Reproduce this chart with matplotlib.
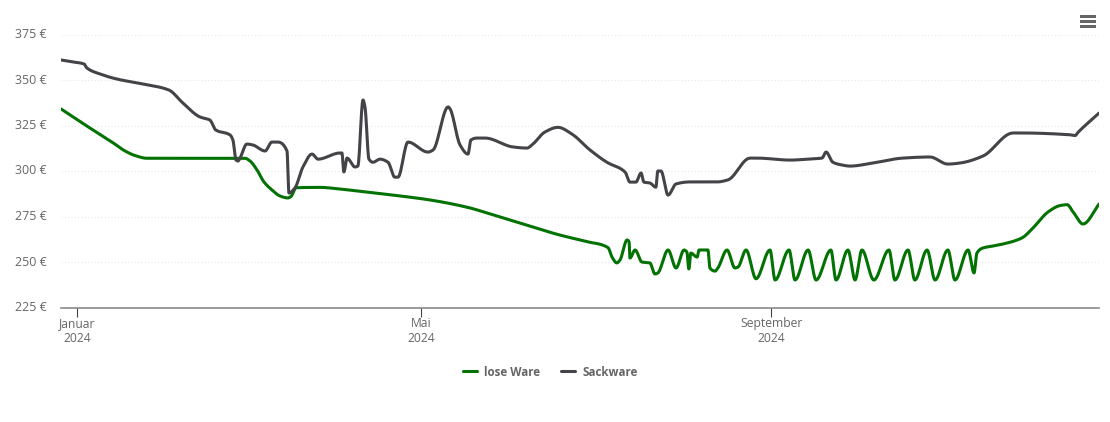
import datetime as dt
import numpy as np
import matplotlib
matplotlib.use('Agg')
import matplotlib.pyplot as plt
import matplotlib.dates as mdates
from matplotlib.patches import Rectangle

plt.rcParams['font.family'] = ['Open Sans', 'DejaVu Sans']

# Tage seit dem 1.1.2024, Preise in Euro
lose_days = [-5.6, 2.8, 12.3, 16.9, 20.4, 24.6, 29.2, 59.0, 60.8, 63.3, 65.7, 68.5, 71.3, 74.1, 75.2, 77.0,
             85.4, 92.4, 101.2, 113.5, 124.0, 138.1, 145.1, 152.1, 160.9, 169.7, 178.5, 186.6, 188.0, 189.7, 190.8,
             193.3, 194.0, 194.3, 196.1, 198.5, 201.3, 203.1, 204.1, 207.7, 210.5, 213.3, 214.3, 215.0, 215.7,
             217.9, 218.6, 221.7, 222.4, 224.2, 225.2, 228.4, 231.2, 232.3, 235.1, 238.6, 243.5, 245.3, 250.2,
             252.3, 256.9, 259.7, 264.9, 266.7, 270.9, 273.4, 275.8, 280.0, 285.3, 287.4, 292.0, 294.4, 298.7,
             301.5, 306.0, 308.5, 313.1, 315.2, 316.2, 318.3, 321.9, 325.4, 332.0, 335.9, 341.2, 345.4, 347.9,
             350.0, 353.5, 359.1]
lose_price = [334.1, 325.4, 315.9, 311.0, 308.5, 307.0, 307.0, 307.0, 305.5, 300.5, 294.0, 289.6, 286.3, 285.2,
              286.0, 290.8, 291.0, 290.1, 288.5, 286.3, 284.1, 279.7, 276.4, 273.1, 268.8, 264.8, 261.4, 257.9,
              252.7, 249.5, 251.1, 262.1, 261.0, 252.2, 256.6, 250.0, 249.5, 243.4, 244.0, 256.6, 246.7, 256.6,
              255.5, 246.2, 254.9, 252.7, 256.6, 256.6, 246.7, 245.0, 246.7, 256.6, 246.7, 247.3, 256.6, 240.8,
              256.6, 240.1, 256.6, 240.1, 256.6, 240.1, 256.6, 240.1, 256.6, 240.1, 256.6, 240.1, 256.6, 240.1,
              256.6, 240.1, 256.6, 240.1, 256.6, 240.1, 256.6, 244.0, 254.9, 257.7, 258.8, 259.9, 263.2, 268.7,
              277.5, 281.0, 281.5, 277.5, 270.9, 281.8]

sack_days = [-5.6, -1.4, 2.5, 3.5, 8.1, 14.1, 23.2, 32.3, 37.2, 43.2, 46.7, 48.8, 53.8, 54.8, 55.9, 56.6, 57.3,
             59.7, 61.8, 66.1, 68.5, 70.6, 73.8, 74.5, 76.6, 79.4, 82.6, 84.7, 92.4, 93.1, 93.8, 94.9, 97.7, 98.7,
             100.5, 101.2, 102.6, 104.0, 106.5, 109.3, 111.7, 112.8, 116.3, 123.3, 125.1, 130.4, 131.1, 134.6,
             137.4, 138.4, 140.5, 143.4, 153.2, 158.1, 160.2, 164.4, 169.0, 173.9, 180.3, 186.2, 192.6, 194.3,
             196.4, 198.2, 199.2, 201.3, 203.4, 204.1, 205.2, 207.7, 210.5, 215.4, 224.9, 228.7, 236.5, 238.9,
             250.5, 257.6, 261.8, 263.2, 265.6, 268.8, 271.6, 279.7, 290.2, 299.7, 306.0, 310.3, 318.3, 328.9,
             331.3, 348.9, 350.7, 351.7, 359.1]
sack_price = [361.0, 359.9, 358.8, 356.6, 353.3, 350.5, 347.8, 344.5, 337.4, 329.7, 328.0, 322.5, 319.8, 317.0,
              306.0, 305.5, 307.1, 314.8, 314.3, 311.0, 315.9, 315.9, 311.0, 287.9, 290.7, 302.2, 309.3, 306.5,
              309.9, 309.9, 299.5, 307.1, 302.2, 302.7, 339.0, 335.2, 306.5, 304.8, 306.5, 304.8, 296.6, 296.6,
              315.9, 310.4, 311.5, 335.2, 334.1, 314.3, 309.3, 317.0, 318.1, 318.1, 313.2, 312.6, 314.8, 321.4,
              324.0, 320.3, 311.5, 304.8, 299.4, 293.9, 293.9, 298.9, 293.9, 293.4, 291.1, 300.0, 300.0, 286.8,
              292.9, 294.0, 294.0, 295.1, 307.1, 307.1, 306.0, 306.6, 307.1, 310.4, 304.8, 303.3, 302.7, 304.4,
              307.1, 307.7, 303.8, 304.4, 308.2, 320.9, 320.9, 319.9, 319.5, 321.2, 331.8]

y_ticks = [225, 250, 275, 300, 325, 350, 375]
x_tick_dates = [dt.date(2024, 1, 1), dt.date(2024, 5, 1), dt.date(2024, 9, 1)]
x_tick_labels = ['Januar\n2024', 'Mai\n2024', 'September\n2024']
series_names = ['lose Ware', 'Sackware']

W, H = 1110, 422
TEXT = '#666666'


def smooth(days, price, n=14):  # monotone Kurve durch die Punkte, wie der Spline im Original
    x = np.asarray(days, float)
    y = np.asarray(price, float)
    h = np.diff(x)
    d = np.diff(y) / h
    m = np.zeros_like(y)
    for i in range(1, len(y) - 1):
        if d[i - 1] * d[i] > 0:
            w1 = 2 * h[i] + h[i - 1]
            w2 = h[i] + 2 * h[i - 1]
            m[i] = (w1 + w2) / (w1 / d[i - 1] + w2 / d[i])
    m[0] = d[0]
    m[-1] = d[-1]
    xs, ys = [], []
    for i in range(len(h)):
        t = np.linspace(0, 1, n, endpoint=False)
        xs.append(x[i] + t * h[i])
        ys.append((2*t**3 - 3*t**2 + 1) * y[i] + (t**3 - 2*t**2 + t) * h[i] * m[i]
                  + (-2*t**3 + 3*t**2) * y[i + 1] + (t**3 - t**2) * h[i] * m[i + 1])
    return np.concatenate(xs + [x[-1:]]), np.concatenate(ys + [y[-1:]])


fig = plt.figure(figsize=(W / 100, H / 100), dpi=100)
ax = fig.add_axes([61 / W, 1 - 307.5 / H, 1038 / W, 273 / H])

base = mdates.date2num(dt.date(2024, 1, 1))
x1, y1 = smooth(lose_days, lose_price)
x2, y2 = smooth(sack_days, sack_price)
ax.plot(base + x1, y1, color='#027202', lw=2.2, label=series_names[0], solid_capstyle='round', solid_joinstyle='round')
ax.plot(base + x2, y2, color='#434348', lw=2.2, label=series_names[1], solid_capstyle='round', solid_joinstyle='round')

ax.set_xlim(base - 5.6, base + 359.1)
ax.set_ylim(225, 375)
ax.set_yticks(y_ticks)
ax.set_yticklabels([f'{v} €' for v in y_ticks], va='center')
ax.set_xticks([mdates.date2num(d) for d in x_tick_dates])
ax.set_xticklabels(x_tick_labels, linespacing=1.25)
ax.tick_params(axis='y', length=0, pad=10, labelsize=8.9, labelcolor=TEXT)
ax.tick_params(axis='x', length=6.3, width=0.8, color='#444444', pad=0.3, labelsize=8.7, labelcolor=TEXT)
ax.grid(axis='y', color='#e8e8e8', lw=0.8, linestyle=(0, (1, 2)))
ax.set_axisbelow(True)
for name in ['top', 'left', 'right']:
    ax.spines[name].set_visible(False)
ax.spines['bottom'].set_color('#808080')
ax.spines['bottom'].set_linewidth(1.1)

leg = fig.legend(loc='center', bbox_to_anchor=(550 / W, 1 - 372 / H), ncol=2, frameon=False,
                 handlelength=1.22, handletextpad=0.6, columnspacing=1.8, labelcolor=TEXT,
                 prop={'size': 8.4, 'weight': 'bold'})

# Menü-Symbol oben rechts
for yy in [15, 20, 25]:
    fig.add_artist(Rectangle((1080 / W, 1 - (yy + 2.7) / H), 16 / W, 2.7 / H, transform=fig.transFigure,
                             color='#666666', lw=0))

fig.savefig('out.png', dpi=100)
